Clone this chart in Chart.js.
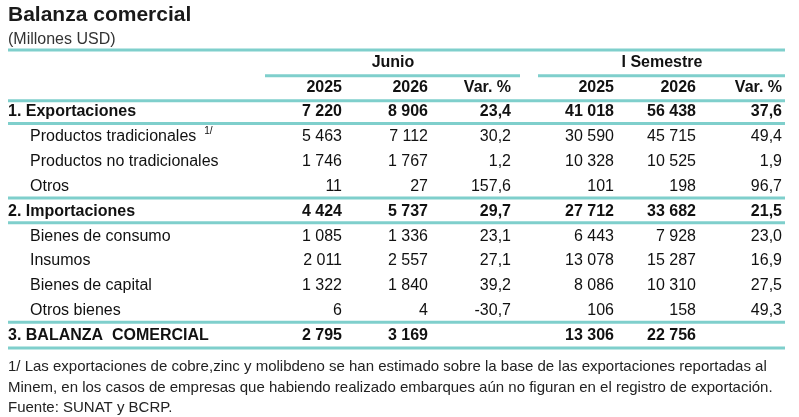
<!DOCTYPE html>
<html>
<head>
<meta charset="utf-8">
<script src="https://cdn.jsdelivr.net/npm/chart.js@4"></script>
<style>
  body { margin: 0; background: #fff; }
  #wrap { width: 799px; height: 417px; position: relative; }
</style>
</head>
<body>
<div id="wrap"><canvas id="tabla"></canvas></div>
<script>
const titulo = 'Balanza comercial';
const unidad = '(Millones USD)';
const grupos = ['Junio', 'I Semestre'];
const encabezados = ['2025', '2026', 'Var. %', '2025', '2026', 'Var. %'];
const filas = [
  '1. Exportaciones',
  'Productos tradicionales',
  'Productos no tradicionales',
  'Otros',
  '2. Importaciones',
  'Bienes de consumo',
  'Insumos',
  'Bienes de capital',
  'Otros bienes',
  '3. BALANZA  COMERCIAL',
];
const junio2025 = ['7 220', '5 463', '1 746', '11', '4 424', '1 085', '2 011', '1 322', '6', '2 795'];
const junio2026 = ['8 906', '7 112', '1 767', '27', '5 737', '1 336', '2 557', '1 840', '4', '3 169'];
const junioVar = ['23,4', '30,2', '1,2', '157,6', '29,7', '23,1', '27,1', '39,2', '-30,7', ''];
const sem2025 = ['41 018', '30 590', '10 328', '101', '27 712', '6 443', '13 078', '8 086', '106', '13 306'];
const sem2026 = ['56 438', '45 715', '10 525', '198', '33 682', '7 928', '15 287', '10 310', '158', '22 756'];
const semVar = ['37,6', '49,4', '1,9', '96,7', '21,5', '23,0', '16,9', '27,5', '49,3', ''];
const negritas = [0, 4, 9];
const notas = [
  '1/ Las exportaciones de cobre,zinc y molibdeno se han estimado sobre la base de las exportaciones reportadas al',
  'Minem, en los casos de empresas que habiendo realizado embarques aún no figuran en el registro de exportación.',
  'Fuente: SUNAT y BCRP.',
];

// layout: right edge of each numeric column (x scale units = pixels)
const colDerecha = [342, 428, 511, 614, 696, 782];
const columnas = [junio2025, junio2026, junioVar, sem2025, sem2026, semVar];
const teal = '#7fcfcc';
const fNum = 'Liberation Sans, Arial, sans-serif';
const fTxt = 'Liberation Sans, Arial, sans-serif';

const yLabels = ['g', 'h', ...filas];

const puntos = [];
columnas.forEach((col, c) => col.forEach((v, r) => puntos.push({ x: colDerecha[c], y: filas[r], t: v, c, r })));

const dibujarTabla = {
  id: 'dibujarTabla',
  afterDatasetsDraw(chart) {
    const ctx = chart.ctx;
    const xs = chart.scales.x, ys = chart.scales.y;
    const yOf = (i) => ys.getPixelForValue(i);
    const entre = (i) => (yOf(i) + yOf(i + 1)) / 2;
    const area = chart.chartArea;
    ctx.save();
    // lines
    ctx.strokeStyle = teal;
    ctx.lineWidth = 3;
    const linea = (x0, x1, y) => { ctx.beginPath(); ctx.moveTo(x0, y); ctx.lineTo(x1, y); ctx.stroke(); };
    const L = xs.getPixelForValue(8), R = xs.getPixelForValue(785);
    linea(L, R, area.top);
    linea(xs.getPixelForValue(265), xs.getPixelForValue(520), entre(0) + 1);
    linea(xs.getPixelForValue(538), R, entre(0) + 1);
    linea(L, R, entre(1) + 1);
    [0, 3, 4, 8].forEach(r => linea(L, R, entre(r + 2) - 1));
    linea(L, R, area.bottom);
    // headers
    ctx.fillStyle = '#111';
    ctx.textBaseline = 'middle';
    ctx.font = 'bold 16px ' + fNum;
    ctx.textAlign = 'center';
    ctx.fillText(grupos[0], xs.getPixelForValue(393), yOf(0));
    ctx.fillText(grupos[1], xs.getPixelForValue(662), yOf(0));
    ctx.textAlign = 'right';
    encabezados.forEach((h, c) => ctx.fillText(h, xs.getPixelForValue(colDerecha[c]), yOf(1)));
    // row labels
    filas.forEach((f, r) => {
      const b = negritas.includes(r);
      ctx.textAlign = 'left';
      ctx.font = (b ? 'bold ' : '') + '16px ' + fNum;
      const x = xs.getPixelForValue(b ? 8 : 30);
      ctx.fillText(f, x, yOf(r + 2));
      if (r === 1) {
        const w = ctx.measureText(f).width;
        ctx.font = '10px ' + fNum;
        ctx.fillText('1/', x + w + 8, yOf(r + 2) - 6);
      }
    });
    // cells
    ctx.textAlign = 'right';
    chart.data.datasets[0].data.forEach(p => {
      ctx.font = (negritas.includes(p.r) ? 'bold ' : '') + '16px ' + fNum;
      ctx.fillText(p.t, xs.getPixelForValue(p.x), ys.getPixelForValue(p.y));
    });
    // title, unit, notes
    ctx.textAlign = 'left';
    ctx.font = 'bold 21px ' + fTxt;
    ctx.fillStyle = '#1a1a1a';
    ctx.fillText(titulo, 8, 15);
    ctx.font = '16px ' + fTxt;
    ctx.fillStyle = '#333';
    ctx.fillText(unidad, 8, 40);
    ctx.font = '15px ' + fTxt;
    ctx.fillStyle = '#222';
    notas.forEach((n, i) => ctx.fillText(n, 8, 367 + i * 20.5));
    ctx.restore();
  }
};

new Chart(document.getElementById('tabla'), {
  type: 'scatter',
  data: { datasets: [{ data: puntos, pointRadius: 0, pointHoverRadius: 0 }] },
  options: {
    responsive: true,
    maintainAspectRatio: false,
    animation: false,
    events: [],
    layout: { padding: { top: 50, bottom: 69, left: 0, right: 0 } },
    plugins: { legend: { display: false }, tooltip: { enabled: false } },
    scales: {
      x: { type: 'linear', min: 0, max: 799, display: false },
      y: { type: 'category', labels: yLabels, offset: true, display: false },
    },
  },
  plugins: [dibujarTabla],
});
</script>
</body>
</html>
